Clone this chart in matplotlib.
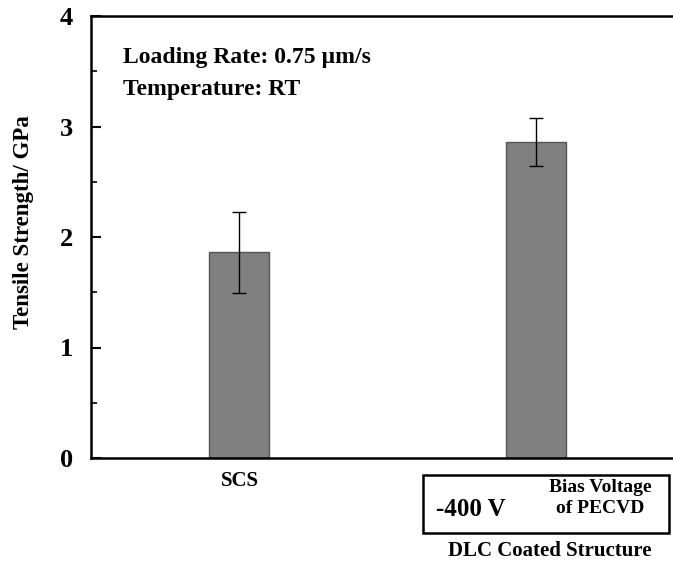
import numpy as np
import matplotlib
matplotlib.use('Agg')
import matplotlib.pyplot as plt
from matplotlib.patches import Rectangle

plt.rcParams['font.family'] = ['Liberation Serif', 'DejaVu Serif']
plt.rcParams['font.weight'] = 'bold'

# data
categories = ['SCS', 'DLC']
strength = [1.86, 2.86]
err = [0.37, 0.22]

W, H = 673, 564


def fx(px):
    return px / W


def fy(py):
    return 1 - py / H


fig = plt.figure(figsize=(6.73, 5.64), dpi=100)
ax = fig.add_axes([fx(91), fy(458), 1 - fx(91), (458 - 16) / H])

x = np.arange(len(categories))
ax.bar(x, strength, width=0.2, color='#808080', edgecolor='#555555', linewidth=1.0,
       yerr=err, capsize=5, error_kw=dict(ecolor='black', elinewidth=1.0, capthick=1.0))

ax.set_xlim(-0.498, 1.461)
ax.set_ylim(0, 4)
ax.set_yticks([0, 1, 2, 3, 4])
ax.set_yticks(np.arange(0.5, 4, 1), minor=True)
ax.tick_params(axis='y', which='major', direction='in', length=7, width=1.5,
               labelsize=19, pad=13)
ax.tick_params(axis='y', which='minor', direction='in', length=4, width=1.2)
ax.set_xticks([])
ax.spines['right'].set_visible(False)
for s in ['left', 'top', 'bottom']:
    ax.spines[s].set_linewidth(1.8)
for lab in ax.get_yticklabels():
    lab.set_fontweight('bold')

fig.text(fx(24), fy(222), 'Tensile Strength/ GPa', fontsize=16.5, fontweight='bold',
         rotation=90, ha='center', va='center')

fig.text(fx(123), fy(63), 'Loading Rate: 0.75 \u00b5m/s', fontsize=17, fontweight='bold',
         ha='left', va='baseline')
fig.text(fx(123), fy(95), 'Temperature: RT', fontsize=17, fontweight='bold',
         ha='left', va='baseline')

# category labels under the axis
fig.text(fx(240), fy(486), 'SCS', fontsize=15, fontweight='bold', ha='center', va='baseline')
fig.patches.append(Rectangle((fx(423), fy(533)), 246 / W, 58 / H,
                             transform=fig.transFigure, fill=False, edgecolor='black',
                             linewidth=1.8))
fig.text(fx(436), fy(516), '-400 V', fontsize=18, fontweight='bold', ha='left', va='baseline')
fig.text(fx(600), fy(492), 'Bias Voltage', fontsize=14, fontweight='bold',
         ha='center', va='baseline')
fig.text(fx(600), fy(513), 'of PECVD', fontsize=14, fontweight='bold',
         ha='center', va='baseline')
fig.text(fx(550), fy(556), 'DLC Coated Structure', fontsize=15, fontweight='bold',
         ha='center', va='baseline')

fig.savefig('out.png', dpi=100)
